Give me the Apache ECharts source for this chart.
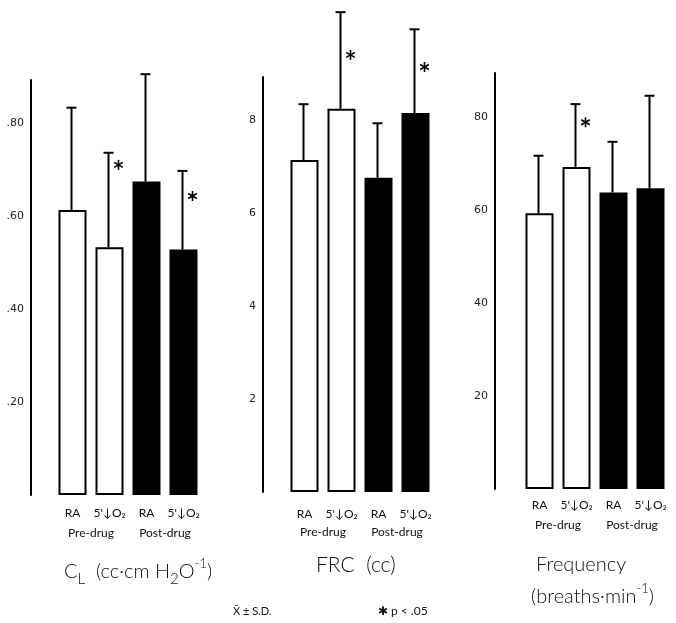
<!DOCTYPE html>
<html>
<head>
<meta charset="utf-8">
<script src="https://cdn.jsdelivr.net/npm/echarts@6/dist/echarts.min.js"></script>
<style>html,body{margin:0;padding:0;background:#fff;}#c{width:676px;height:623px;}</style>
</head>
<body>
<div id="c"></div>
<script>
// ---- data ----
const categories = ['RA', "5'↓O₂", 'RA', "5'↓O₂"];
const groups = ['Pre-drug', 'Post-drug'];

const clMean = [0.613, 0.533, 0.674, 0.528];
const clSD   = [0.220, 0.203, 0.231, 0.169];
const clStar = [null, 0.71, null, 0.643];

const frcMean = [7.14, 8.24, 6.76, 8.15];
const frcSD   = [1.20, 2.08, 1.17, 1.80];
const frcStar = [null, 9.40, null, 9.14];

const freqMean = [59.3, 69.3, 63.8, 64.7];
const freqSD   = [12.4, 13.5, 10.9, 19.9];
const freqStar = [null, 78.9, null, null];

const clTicks = ['.20', '.40', '.60', '.80'];
const frcTicks = ['2', '4', '6', '8'];
const freqTicks = ['20', '40', '60', '80'];

const axisMax = [0.8925, 8.925, 89.5];
const axisInterval = [0.2, 2, 20];
// -----------------------------------

const chart = echarts.init(document.getElementById('c'), null, {renderer: 'canvas'});
const fills = ['#ffffff', '#ffffff', '#000000', '#000000'];
const tickFont = 'DejaVu Sans';
const txtFont = 'Lato, "Open Sans", sans-serif';

const panels = [
  {mean: clMean, sd: clSD, star: clStar, ticks: clTicks, grid: {left: 54, width: 148, top: 80, bottom: 128}, offset: 23, catMargin: 12, grpOffset: 20},
  {mean: frcMean, sd: frcSD, star: frcStar, ticks: frcTicks, grid: {left: 286, width: 148, top: 77, bottom: 131}, offset: 23, catMargin: 16, grpOffset: 18},
  {mean: freqMean, sd: freqSD, star: freqStar, ticks: freqTicks, grid: {left: 521, width: 148, top: 73, bottom: 134}, offset: 26, catMargin: 10, grpOffset: 20}
];

const grid = [], xAxis = [], yAxis = [], series = [];
panels.forEach((p, i) => {
  grid.push(Object.assign({containLabel: false}, p.grid));
  xAxis.push({
    type: 'category', gridIndex: i, data: categories,
    axisLine: {show: false}, axisTick: {show: false},
    axisLabel: {interval: 0, hideOverlap: false, margin: p.catMargin, fontFamily: txtFont, fontSize: 12, color: '#111'}
  });
  xAxis.push({
    type: 'category', gridIndex: i, data: groups, position: 'bottom', offset: p.grpOffset,
    axisLine: {show: false}, axisTick: {show: false},
    axisLabel: {interval: 0, hideOverlap: false, margin: p.catMargin, fontFamily: txtFont, fontSize: 12, color: '#111'}
  });
  const ticks = p.ticks;
  yAxis.push({
    type: 'value', gridIndex: i, min: 0, max: axisMax[i], interval: axisInterval[i], offset: p.offset,
    splitLine: {show: false}, axisTick: {show: false},
    axisLine: {show: true, lineStyle: {color: '#000', width: 2}},
    axisLabel: {
      margin: 7, fontFamily: tickFont, fontSize: 11, color: '#222',
      showMinLabel: false, showMaxLabel: false,
      formatter: function (v) {
        const k = Math.round(v / axisInterval[i]);
        if (k < 1 || k > ticks.length || Math.abs(v - k * axisInterval[i]) > 1e-6) return '';
        return ticks[k - 1];
      }
    }
  });
  series.push({
    type: 'bar', xAxisIndex: 2 * i, yAxisIndex: i, barWidth: 28,
    data: p.mean.map((v, j) => ({value: v, itemStyle: {color: fills[j], borderColor: '#000', borderWidth: 2}})),
    z: 2
  });
  series.push({
    type: 'custom', xAxisIndex: 2 * i, yAxisIndex: i, clip: false, z: 3,
    data: p.mean.map((v, j) => [j, v, p.sd[j]]),
    renderItem: function (params, api) {
      const x = api.value(0), m = api.value(1), s = api.value(2);
      const b = api.coord([x, m]);
      const t = api.coord([x, m + s]);
      const cx = b[0] - 1;
      return {
        type: 'group', children: [
          {type: 'line', shape: {x1: cx, y1: b[1], x2: cx, y2: t[1]}, style: {stroke: '#000', lineWidth: 2}},
          {type: 'line', shape: {x1: cx - 5, y1: t[1], x2: cx + 5, y2: t[1]}, style: {stroke: '#000', lineWidth: 2}}
        ]
      };
    }
  });
  series.push({
    type: 'custom', xAxisIndex: 2 * i, yAxisIndex: i, clip: false, z: 3,
    data: p.star.map((v, j) => [j, v]).filter(d => d[1] != null),
    renderItem: function (params, api) {
      const c = api.coord([api.value(0), api.value(1)]);
      const cx = c[0] + 9, cy = c[1], r = 5;
      const kids = [];
      [90, 30, 150].forEach(a => {
        const rad = a * Math.PI / 180;
        kids.push({type: 'line', shape: {x1: cx - r * Math.cos(rad), y1: cy - r * Math.sin(rad), x2: cx + r * Math.cos(rad), y2: cy + r * Math.sin(rad)}, style: {stroke: '#000', lineWidth: 1.6}});
      });
      return {type: 'group', children: kids};
    }
  });
});

const titleRich = {
  n: {fontFamily: txtFont, fontSize: 20, fontWeight: 300, fill: '#111', lineHeight: 30, verticalAlign: 'middle'},
  s: {fontFamily: txtFont, fontSize: 15, fontWeight: 300, fill: '#111', lineHeight: 15, verticalAlign: 'bottom'},
  p: {fontFamily: txtFont, fontSize: 13, fontWeight: 300, fill: '#111', lineHeight: 13, verticalAlign: 'top'}
};

chart.setOption({
  animation: false,
  backgroundColor: '#fff',
  grid: grid, xAxis: xAxis, yAxis: yAxis, series: series,
  graphic: [
    {type: 'text', left: 64, top: 557, style: {text: '{n|C}{s|L}{n|  (cc·cm H}{s|2}{n|O}{p|-1}{n|)}', rich: titleRich}},
    {type: 'text', left: 316, top: 555, style: {text: 'FRC  (cc)', fontFamily: txtFont, fontSize: 21, fontWeight: 300, fill: '#111'}},
    {type: 'text', left: 536, top: 555, style: {text: 'Frequency', fontFamily: txtFont, fontSize: 20, fontWeight: 300, fill: '#111'}},
    {type: 'text', left: 531, top: 582, style: {text: '{n|(breaths·min}{p|-1}{n|)}', rich: titleRich}},
    {type: 'text', left: 233, top: 606, style: {text: 'X̄ ± S.D.', fontFamily: txtFont, fontSize: 11, fill: '#111'}},
    {type: 'text', left: 378, top: 605, style: {text: '✱ p < .05', fontFamily: txtFont, fontSize: 12, fill: '#111'}}
  ]
});
</script>
</body>
</html>
